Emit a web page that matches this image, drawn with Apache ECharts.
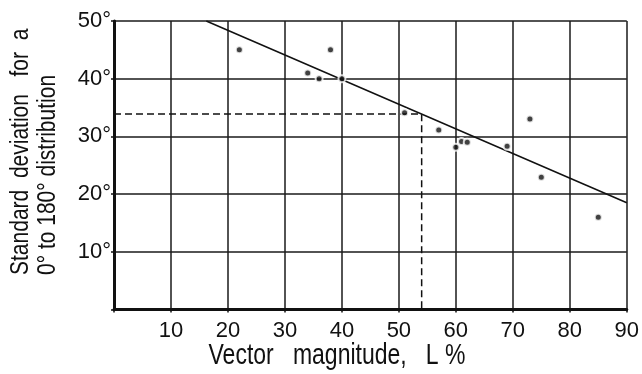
<!DOCTYPE html>
<html>
<head>
<meta charset="utf-8">
<script src="https://cdn.jsdelivr.net/npm/echarts@6/dist/echarts.min.js"></script>
<style>
html,body{margin:0;padding:0;background:#fff;}
#chart{width:642px;height:374px;}
</style>
</head>
<body>
<div id="chart"></div>
<script>
// Observed points: vector magnitude L (%) vs standard deviation (degrees)
var pointsX = [22, 34, 36, 38, 40, 51, 57, 60, 61, 62, 69, 73, 75, 85];
var pointsY = [45, 41, 40, 45, 40, 34.1, 31.1, 28.1, 29.1, 29.0, 28.3, 33.0, 22.9, 16.0];
// Fitted line endpoints
var fitX = [16.2, 90];
var fitY = [50, 18.5];
// Dashed reading guide
var guideX = [0, 54, 54];
var guideY = [33.9, 33.9, 0];
// Axis ticks
var xTicks = [0, 10, 20, 30, 40, 50, 60, 70, 80, 90];
var yTicks = [0, 10, 20, 30, 40, 50];

var FONT = '"Liberation Sans", Arial, sans-serif';
function zip(a, b) { return a.map(function (v, i) { return [v, b[i]]; }); }

var chart = echarts.init(document.getElementById('chart'), null, {renderer: 'canvas'});
chart.setOption({
  backgroundColor: '#ffffff',
  animation: false,
  grid: {left: 114, right: 14, top: 21, bottom: 64.5, containLabel: false},
  xAxis: {
    type: 'value', min: xTicks[0], max: xTicks[xTicks.length - 1], interval: 10,
    axisLine: {show: true, lineStyle: {color: '#111', width: 3}},
    axisTick: {show: true, length: 3, inside: false, lineStyle: {color: '#111', width: 1.5}},
    axisLabel: {margin: 10, color: '#111', fontFamily: FONT, fontSize: 22,
      formatter: function (v) { return v === 0 ? '' : String(v); }},
    splitLine: {show: true, lineStyle: {color: '#1a1a1a', width: 1.5}}
  },
  yAxis: {
    type: 'value', min: yTicks[0], max: yTicks[yTicks.length - 1], interval: 10,
    axisLine: {show: true, lineStyle: {color: '#111', width: 3}},
    axisTick: {show: true, length: 3, lineStyle: {color: '#111', width: 1.5}},
    axisLabel: {margin: 3, color: '#111', fontFamily: FONT, fontSize: 22,
      formatter: function (v) { return v === 0 ? '' : v + '°'; }},
    splitLine: {show: true, lineStyle: {color: '#1a1a1a', width: 1.5}}
  },
  series: [
    {
      type: 'line', data: zip(guideX, guideY), symbol: 'none', silent: true,
      lineStyle: {color: '#111', width: 1.5, type: [7, 4]}, z: 3
    },
    {
      type: 'line', data: zip(fitX, fitY), symbol: 'none', silent: true,
      lineStyle: {color: '#111', width: 1.5}, z: 4
    },
    {
      type: 'scatter', data: zip(pointsX, pointsY), symbol: 'circle', symbolSize: 7,
      itemStyle: {color: '#111', borderColor: '#fff', borderWidth: 2}, z: 5
    }
  ],
  graphic: [
    {type: 'text', x: 21, y: 275, rotation: Math.PI / 2, scaleY: 1.2,
      style: {text: 'Standard  deviation   for  a', fontFamily: FONT, fontSize: 21, fill: '#111',
        textAlign: 'left', textVerticalAlign: 'middle'}},
    {type: 'text', x: 48, y: 275, rotation: Math.PI / 2, scaleY: 1.2,
      style: {text: '0° to 180° distribution', fontFamily: FONT, fontSize: 21, fill: '#111',
        textAlign: 'left', textVerticalAlign: 'middle'}},
    {type: 'text', x: 337, y: 356, scaleY: 1.25,
      style: {text: 'Vector   magnitude,   L %', fontFamily: FONT, fontSize: 23, fill: '#111',
        textAlign: 'center', textVerticalAlign: 'middle'}}
  ]
});
</script>
</body>
</html>
